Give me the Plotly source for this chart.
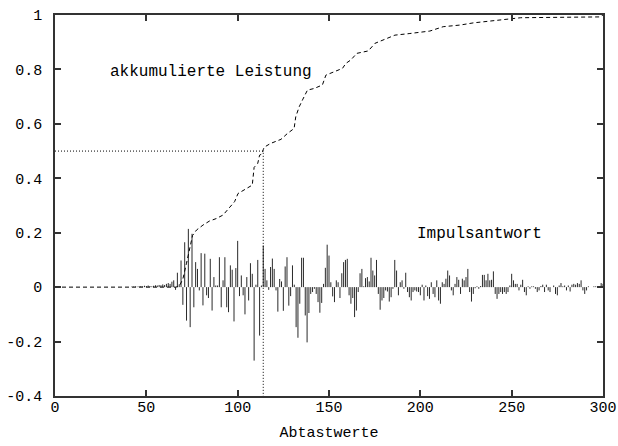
import plotly.graph_objects as go

# impulse response, sample index 0..300
samples = list(range(301))
impulse = [
    # 0..41
    0, 0, 0, 0, 0, 0, 0, 0, 0, 0, 0, 0, 0, 0, 0, 0, 0, 0, 0, 0, 0,
    0, 0, 0, 0, 0, 0, 0, 0, 0, 0, 0, 0, 0, 0, 0, 0, 0, 0, 0, 0, 0,
    # 42..62
    0.002, 0.002, 0.003, 0.002, 0.003, 0.004, 0.003, 0.005, 0.004, 0.006, 0.004,
    0.003, 0.005, 0.007, 0.006, 0.008, 0.007, 0.01, 0.008, 0.012, 0.015,
    # 63..99
    0.012, 0.02, 0.025, -0.01, 0.053, 0.01, 0.098, -0.065, 0.165, -0.123,
    0.214, -0.147, 0.196, -0.074, 0.092, 0.067, -0.012, 0.125, -0.067, 0.123,
    -0.03, -0.04, 0.104, -0.086, 0.037, 0.006, 0.006, 0.11, -0.074, 0.025,
    0.11, -0.074, -0.092, 0.08, 0.064, -0.126, 0.07,
    # 100..139
    0.17, -0.033, 0.043, -0.03, -0.10, 0.037, -0.049, 0.088, 0.049, -0.27,
    0.009, 0.10, -0.178, 0.006, 0.153, 0.067, 0.025, -0.01, 0.074, 0.105,
    0.067, -0.012, -0.09, 0.03, 0.021, -0.087, 0.076, 0.11, -0.068, -0.033,
    0.08, 0.009, -0.147, -0.186, -0.061, 0.108, 0.108, -0.104, -0.203, -0.095,
    # 140..179
    -0.025, -0.018, -0.006, -0.025, -0.055, -0.094, -0.058, 0.012, 0.071, 0.156,
    0.116, 0.018, -0.034, -0.055, 0.025, 0.018, -0.04, 0.051, 0.092, 0.10,
    0.104, -0.03, -0.061, -0.04, -0.11, -0.086, -0.018, 0.051, 0.067, 0.003,
    0.033, 0.037, 0.021, 0.108, 0.061, 0.043, 0.10, -0.025, -0.083, -0.049,
    # 180..219
    -0.04, -0.012, -0.016, -0.053, -0.037, -0.006, 0.10, 0.061, -0.03, 0.018,
    0.025, -0.006, 0.053, -0.018, -0.037, -0.049, -0.018, -0.012, -0.016, -0.018,
    -0.03, 0.009, -0.049, 0.006, -0.033, -0.043, 0.018, -0.025, -0.037, 0.025,
    -0.049, -0.061, 0.018, 0.012, 0.031, 0.061, 0.043, -0.012, -0.03, 0.012,
    # 220..259
    0.037, 0.027, -0.025, 0.031, 0.025, 0.037, 0.067, -0.018, -0.053, -0.025,
    -0.004, 0.003, -0.006, 0.004, 0.045, 0.045, 0.025, 0.049, 0.025, 0.027,
    0.058, -0.025, -0.043, -0.025, -0.018, -0.025, -0.018, -0.025, -0.018, 0.006,
    0.049, 0.025, 0.012, 0.012, -0.012, 0.009, 0.027, -0.018, -0.03, 0.003,
    # 260..300
    -0.006, 0.003, 0.003, -0.006, -0.018, -0.012, 0.004, 0.009, -0.018, 0.009,
    -0.012, -0.018, 0.0, 0.006, -0.025, -0.03, 0.006, 0.015, 0.003, 0.006,
    -0.012, 0.006, -0.016, 0.009, 0.012, 0.009, 0.015, 0.012, 0.025, -0.012,
    -0.025, -0.012, 0.003, 0.0, 0.0, 0.003, 0.003, 0.0, 0.003, 0.015, 0.012,
]

# accumulated power curve
cum_x = [0, 66, 68, 70, 72, 74, 75.3, 77.5, 81, 84.6, 88.3, 92, 95.6, 98.3, 100.2,
         103.8, 108, 109, 111, 112, 113.5, 114, 114.5, 118, 123.7, 127.3, 130.9,
         131.8, 133.7, 135.5, 138.2, 141.9, 146.4, 148.3, 152.8, 157.4, 159.2, 162,
         165.2, 171.5, 175.2, 179.7, 186.1, 194.3, 205.2, 212.5, 221.7, 229, 240,
         250, 255, 298, 300]
cum_y = [0, 0, 0.003, 0.03, 0.088, 0.154, 0.19, 0.21, 0.228, 0.243, 0.252, 0.265,
         0.295, 0.314, 0.344, 0.357, 0.375, 0.44, 0.455, 0.485, 0.49, 0.505, 0.514,
         0.528, 0.543, 0.565, 0.583, 0.626, 0.663, 0.688, 0.724, 0.73, 0.743, 0.779,
         0.792, 0.804, 0.822, 0.835, 0.859, 0.868, 0.896, 0.908, 0.926, 0.932,
         0.941, 0.957, 0.963, 0.971, 0.978, 0.986, 0.99, 0.993, 1.0]

half_x = 114     # sample where half the power is reached
half_y = 0.5

x_ticks = [0, 50, 100, 150, 200, 250, 300]
y_ticks = [-0.4, -0.2, 0, 0.2, 0.4, 0.6, 0.8, 1]
y_ticktext = ["-0.4", "-0.2", "0", "0.2", "0.4", "0.6", "0.8", "1"]

FONT = "Liberation Mono, Courier New, monospace"

# stems as line segments from 0 to each value
stem_x, stem_y = [], []
for n, v in zip(samples, impulse):
    if v != 0:
        stem_x += [n, n, None]
        stem_y += [0, v, None]

fig = go.Figure()
fig.add_trace(go.Scatter(x=stem_x, y=stem_y, mode="lines",
                         line=dict(color="#2a2a2a", width=1), hoverinfo="skip"))
fig.add_trace(go.Scatter(x=cum_x, y=cum_y, mode="lines",
                         line=dict(color="black", width=1, dash="4px,3px")))
# dotted marker lines for the 50 % point
fig.add_trace(go.Scatter(x=[0, half_x, half_x], y=[half_y, half_y, y_ticks[0]], mode="lines",
                         line=dict(color="black", width=1, dash="1px,2px")))

fig.add_annotation(x=29, y=0.79, text="akkumulierte Leistung", showarrow=False,
                   xanchor="left", yanchor="middle", font=dict(family=FONT, size=16, color="black"))
fig.add_annotation(x=197, y=0.195, text="Impulsantwort", showarrow=False,
                   xanchor="left", yanchor="middle", font=dict(family=FONT, size=16, color="black"))

axis_style = dict(showgrid=False, zeroline=False, showline=True, linecolor="#333",
                  linewidth=1.5, mirror="ticks", ticks="inside", ticklen=6,
                  tickcolor="#333", tickwidth=1.5, automargin=False)

fig.update_xaxes(range=[0, 300], tickvals=x_ticks, ticklabelstandoff=-4,
                 title=dict(text="Abtastwerte", standoff=11, font=dict(family=FONT, size=15)),
                 **axis_style)
fig.update_yaxes(range=[-0.4, 1], tickvals=y_ticks, ticktext=y_ticktext,
                 ticklabelstandoff=8, **axis_style)

fig.update_layout(
    width=618, height=446,
    margin=dict(l=55, r=15, t=15, b=50),
    showlegend=False,
    plot_bgcolor="white", paper_bgcolor="white",
    font=dict(family=FONT, size=15, color="black"),
)

# page body has a default 8px margin; drop it so the figure sits at the window origin
fig.write_html("out.html", config={"displayModeBar": False},
               post_script="document.body.style.margin='0';")
